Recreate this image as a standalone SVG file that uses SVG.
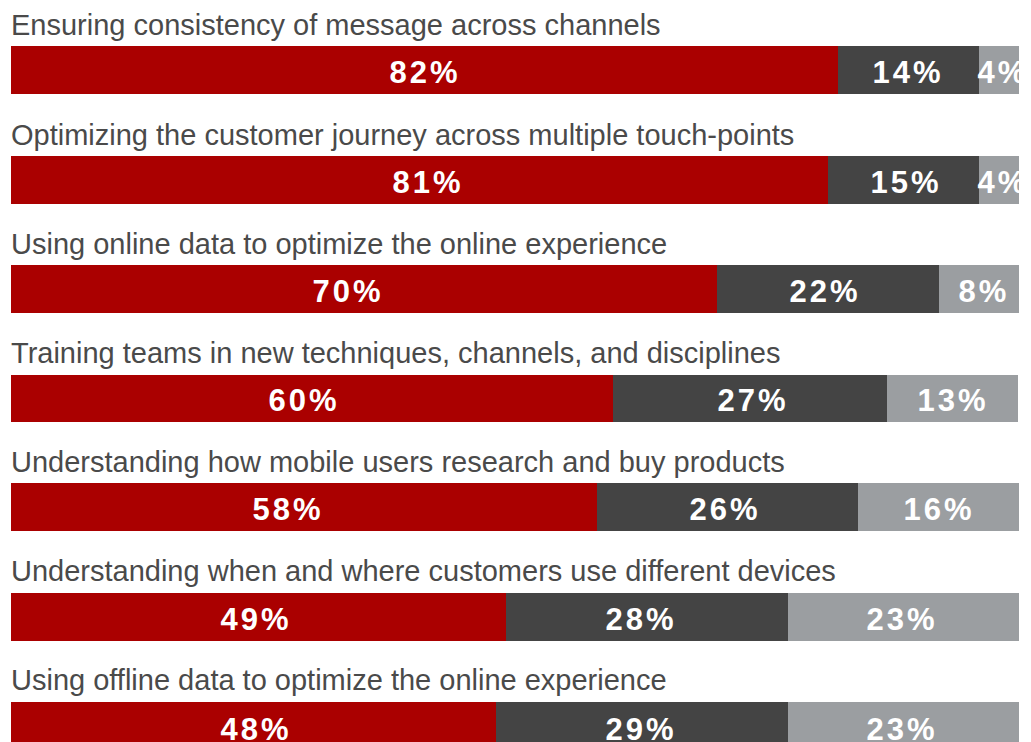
<svg xmlns="http://www.w3.org/2000/svg" width="1031" height="742" viewBox="0 0 1031 742">
<defs>
<style>
.lbl{font-family:"Liberation Sans",Arial,sans-serif;font-size:29px;fill:#4a4a4a}
.pct{font-family:"Liberation Sans",Arial,sans-serif;font-size:31px;font-weight:bold;fill:#ffffff;text-anchor:middle;letter-spacing:3px}
.r{fill:#aa0000}
.d{fill:#444444}
.l{fill:#9b9ea1}
</style>
<clipPath id="chart"><rect x="0" y="0" width="1019" height="742"/></clipPath>
</defs>
<rect width="1031" height="742" fill="#ffffff"/>
<g clip-path="url(#chart)">
<g id="row1">
<text class="lbl" x="11" y="35">Ensuring consistency of message across channels</text>
<rect class="r" x="11" y="46" width="827" height="48"/>
<rect class="d" x="838" y="46" width="141" height="48"/>
<rect class="l" x="979" y="46" width="40" height="48"/>
<text class="pct" x="425" y="83">82%</text>
<text class="pct" x="908" y="83">14%</text>
<text class="pct" x="1003" y="83">4%</text>
</g>
<g id="row2">
<text class="lbl" x="11" y="145">Optimizing the customer journey across multiple touch-points</text>
<rect class="r" x="11" y="156" width="817" height="48"/>
<rect class="d" x="828" y="156" width="151" height="48"/>
<rect class="l" x="979" y="156" width="40" height="48"/>
<text class="pct" x="428" y="193">81%</text>
<text class="pct" x="906" y="193">15%</text>
<text class="pct" x="1003" y="193">4%</text>
</g>
<g id="row3">
<text class="lbl" x="11" y="254">Using online data to optimize the online experience</text>
<rect class="r" x="11" y="265" width="706" height="48"/>
<rect class="d" x="717" y="265" width="222" height="48"/>
<rect class="l" x="939" y="265" width="80" height="48"/>
<text class="pct" x="348" y="302">70%</text>
<text class="pct" x="825" y="302">22%</text>
<text class="pct" x="984" y="302">8%</text>
</g>
<g id="row4">
<text class="lbl" x="11" y="363">Training teams in new techniques, channels, and disciplines</text>
<rect class="r" x="11" y="375" width="602" height="47"/>
<rect class="d" x="613" y="375" width="274" height="47"/>
<rect class="l" x="887" y="375" width="131" height="47"/>
<text class="pct" x="304" y="411">60%</text>
<text class="pct" x="753" y="411">27%</text>
<text class="pct" x="953" y="411">13%</text>
</g>
<g id="row5">
<text class="lbl" x="11" y="472">Understanding how mobile users research and buy products</text>
<rect class="r" x="11" y="483" width="586" height="48"/>
<rect class="d" x="597" y="483" width="261" height="48"/>
<rect class="l" x="858" y="483" width="161" height="48"/>
<text class="pct" x="288" y="520">58%</text>
<text class="pct" x="725" y="520">26%</text>
<text class="pct" x="939" y="520">16%</text>
</g>
<g id="row6">
<text class="lbl" x="11" y="581">Understanding when and where customers use different devices</text>
<rect class="r" x="11" y="593" width="495" height="48"/>
<rect class="d" x="506" y="593" width="282" height="48"/>
<rect class="l" x="788" y="593" width="231" height="48"/>
<text class="pct" x="256" y="630">49%</text>
<text class="pct" x="641" y="630">28%</text>
<text class="pct" x="902" y="630">23%</text>
</g>
<g id="row7">
<text class="lbl" x="11" y="690">Using offline data to optimize the online experience</text>
<rect class="r" x="11" y="702" width="485" height="48"/>
<rect class="d" x="496" y="702" width="292" height="48"/>
<rect class="l" x="788" y="702" width="231" height="48"/>
<text class="pct" x="256" y="740">48%</text>
<text class="pct" x="641" y="740">29%</text>
<text class="pct" x="902" y="740">23%</text>
</g>
</g>
<g id="connectors"/>
</svg>
